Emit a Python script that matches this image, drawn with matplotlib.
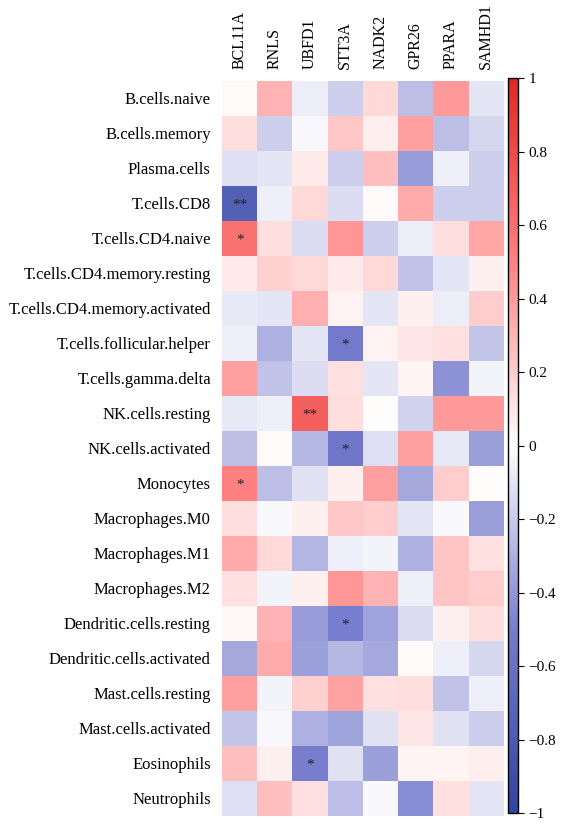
import matplotlib
matplotlib.use("Agg")
import matplotlib.pyplot as plt
import numpy as np
from matplotlib.colors import LinearSegmentedColormap

plt.rcParams['font.family'] = ['Liberation Serif', 'DejaVu Serif']

genes = ["BCL11A", "RNLS", "UBFD1", "STT3A", "NADK2", "GPR26", "PPARA", "SAMHD1"]
cells = ["B.cells.naive", "B.cells.memory", "Plasma.cells", "T.cells.CD8",
         "T.cells.CD4.naive", "T.cells.CD4.memory.resting",
         "T.cells.CD4.memory.activated", "T.cells.follicular.helper",
         "T.cells.gamma.delta", "NK.cells.resting", "NK.cells.activated",
         "Monocytes", "Macrophages.M0", "Macrophages.M1", "Macrophages.M2",
         "Dendritic.cells.resting", "Dendritic.cells.activated",
         "Mast.cells.resting", "Mast.cells.activated", "Eosinophils", "Neutrophils"]

corr = np.array([
    [0.02, 0.30, -0.07, -0.18, 0.15, -0.25, 0.40, -0.10],
    [0.13, -0.18, -0.03, 0.22, 0.07, 0.38, -0.25, -0.15],
    [-0.12, -0.10, 0.08, -0.18, 0.25, -0.38, -0.06, -0.18],
    [-0.75, -0.06, 0.15, -0.13, 0.02, 0.33, -0.18, -0.18],
    [0.58, 0.13, -0.13, 0.42, -0.18, -0.07, 0.13, 0.35],
    [0.08, 0.18, 0.15, 0.08, 0.15, -0.23, -0.10, 0.06],
    [-0.08, -0.10, 0.32, 0.05, -0.10, 0.06, -0.07, 0.20],
    [-0.06, -0.30, -0.10, -0.52, 0.05, 0.10, 0.12, -0.22],
    [0.38, -0.23, -0.13, 0.12, -0.10, 0.04, -0.42, -0.04],
    [-0.08, -0.06, 0.68, 0.13, 0.01, -0.17, 0.40, 0.40],
    [-0.25, 0.02, -0.27, -0.55, -0.12, 0.38, -0.08, -0.37],
    [0.50, -0.25, -0.11, 0.06, 0.38, -0.33, 0.20, 0.01],
    [0.13, -0.02, 0.06, 0.22, 0.20, -0.10, -0.02, -0.37],
    [0.33, 0.15, -0.28, -0.06, -0.04, -0.30, 0.23, 0.12],
    [0.12, -0.04, 0.06, 0.42, 0.30, -0.06, 0.23, 0.20],
    [0.03, 0.30, -0.38, -0.50, -0.35, -0.13, 0.06, 0.13],
    [-0.33, 0.33, -0.36, -0.27, -0.33, 0.02, -0.06, -0.15],
    [0.38, -0.04, 0.18, 0.37, 0.12, 0.13, -0.23, -0.06],
    [-0.22, -0.02, -0.30, -0.35, -0.11, 0.10, -0.11, -0.19],
    [0.25, 0.06, -0.50, -0.11, -0.37, 0.04, 0.04, 0.07],
    [-0.12, 0.25, 0.12, -0.25, -0.02, -0.43, 0.12, -0.10],
])

# significance marks (row, col, text)
stars = [(3, 0, "**"), (4, 0, "*"), (7, 3, "*"), (9, 2, "**"), (10, 3, "*"),
         (11, 0, "*"), (15, 3, "*"), (19, 2, "*")]

cmap = LinearSegmentedColormap.from_list("bwr2", [
    (0.0, (48/255, 68/255, 160/255)),
    (0.25, (120/255, 125/255, 205/255)),
    (0.5, (1, 1, 1)),
    (0.75, (1, 130/255, 130/255)),
    (1.0, (225/255, 40/255, 35/255)),
])

fig = plt.figure(figsize=(5.61, 8.23), dpi=100)
ax = fig.add_axes([0.3957, 0.0091, 0.502, 0.893])
im = ax.imshow(corr, cmap=cmap, vmin=-1, vmax=1, aspect='auto')

for r, c, s in stars:
    ax.text(c, r + 0.05, s, ha='center', va='center', fontsize=11, color='#222222')

ax.set_xticks(range(len(genes)))
ax.set_xticklabels(genes, rotation=90, fontsize=11.5)
ax.xaxis.tick_top()
ax.set_yticks(range(len(cells)))
ax.set_yticklabels(cells, fontsize=12)
ax.tick_params(length=0, pad=8)
for sp in ax.spines.values():
    sp.set_visible(False)

cax = fig.add_axes([0.9055, 0.012, 0.0178, 0.893])
cb = fig.colorbar(im, cax=cax, ticks=np.linspace(-1, 1, 11))
cb.ax.set_yticklabels(["\u22121", "\u22120.8", "\u22120.6", "\u22120.4", "\u22120.2", "0",
                       "0.2", "0.4", "0.6", "0.8", "1"], fontsize=11)
cb.ax.tick_params(length=4, width=0.8)
cb.outline.set_linewidth(1.0)

fig.savefig("out.png", dpi=100)
